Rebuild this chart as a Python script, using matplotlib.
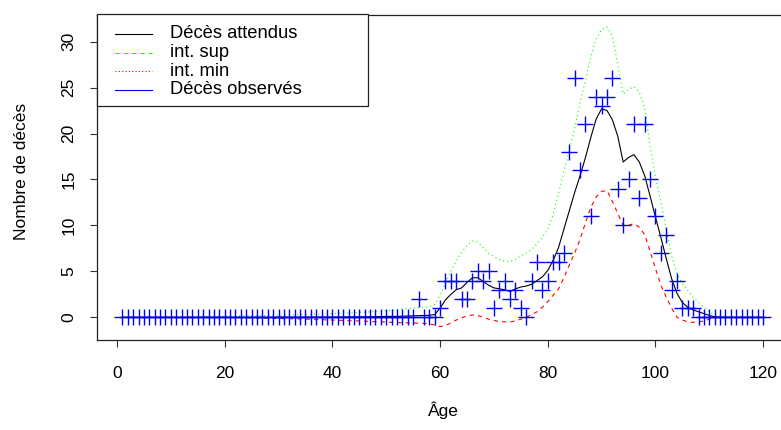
import matplotlib
matplotlib.use("Agg")
import matplotlib.pyplot as plt
from matplotlib.lines import Line2D
from matplotlib.patches import Rectangle

plt.rcParams['font.family'] = ['Liberation Sans', 'DejaVu Sans']
plt.rcParams['lines.scale_dashes'] = False

ages = list(range(1, 121))

observed = ([0] * 55 +
            [2, 0, 0, 0, 1, 4, 4, 4, 2, 2,
             4, 5, 4, 5, 1, 3, 4, 2, 3, 1,
             0, 4, 6, 3, 4, 6, 6, 7, 18, 26,
             16, 21, 11, 24, 23, 24, 26, 14, 10, 15,
             21, 13, 21, 15, 11, 7, 9, 3, 4, 1,
             1, 1] +
            [0] * 13)

expected = [0.0] * 20 + [
    0.0, 0.0, 0.0, 0.0, 0.0, 0.0, 0.0, 0.0, 0.0, 0.01,
    0.01, 0.01, 0.01, 0.01, 0.01, 0.02, 0.02, 0.02, 0.02, 0.03,
    0.03, 0.03, 0.04, 0.04, 0.05, 0.05, 0.06, 0.07, 0.08, 0.09,
    0.1, 0.1, 0.12, 0.14, 0.16, 0.18, 0.2, 0.22, 0.3, 1.0,
    1.9, 2.5, 3.0, 3.2, 3.8, 4.3, 4.3, 3.9, 3.5, 3.2,
    3.1, 3.0, 2.8, 3.1, 3.3, 3.4, 3.6, 4.0, 4.4, 5.1,
    6.2, 7.6, 9.6, 11.6, 13.6, 15.4, 17.4, 19.6, 21.6, 22.7,
    22.5, 21.5, 19.7, 16.9, 17.4, 17.7, 16.9, 15.4, 13.2, 10.9,
    8.7, 6.4, 4.2, 2.6, 1.6, 1.1, 0.8, 0.6, 0.4, 0.2,
    0.05, 0.02, 0.01, 0.0, 0.0, 0.0, 0.0, 0.0, 0.0, 0.0]

int_sup = [0.0] * 14 + [
    0.1, 0.1, 0.11, 0.12, 0.13, 0.14,
    0.15, 0.16, 0.17, 0.18, 0.19, 0.2, 0.21, 0.22, 0.23, 0.24,
    0.25, 0.26, 0.27, 0.28, 0.3, 0.32, 0.34, 0.36, 0.38, 0.4,
    0.42, 0.44, 0.47, 0.5, 0.53, 0.56, 0.6, 0.64, 0.68, 0.72,
    0.77, 0.82, 0.88, 0.94, 1.0, 1.05, 1.1, 1.15, 1.4, 2.4,
    3.7, 5.0, 6.1, 7.1, 7.8, 8.3, 8.2, 7.6, 7.0, 6.6,
    6.3, 6.1, 6.05, 6.3, 6.7, 7.0, 7.4, 8.0, 8.7, 9.6,
    11.2, 13.5, 15.9, 18.2, 20.6, 23.4, 25.8, 28.4, 30.3, 31.3,
    31.6, 30.6, 27.5, 24.3, 24.8, 25.1, 24.5, 22.8, 18.6, 15.2,
    12.6, 9.6, 6.7, 4.8, 3.7, 2.9, 2.2, 1.6, 1.1, 0.6,
    0.3, 0.15, 0.1, 0.05, 0.0, 0.0, 0.0, 0.0, 0.0, 0.0]

int_min = [0.0] * 20 + [
    -0.02, -0.03, -0.04, -0.05, -0.06, -0.07, -0.08, -0.1, -0.12, -0.13,
    -0.14, -0.15, -0.17, -0.18, -0.2, -0.22, -0.24, -0.26, -0.28, -0.3,
    -0.32, -0.34, -0.36, -0.38, -0.4, -0.42, -0.45, -0.48, -0.5, -0.52,
    -0.55, -0.57, -0.6, -0.6, -0.62, -0.64, -0.66, -0.7, -0.85, -1.0,
    -0.9, -0.6, -0.3, -0.05, 0.15, 0.25, 0.2, 0.0, -0.2, -0.35,
    -0.45, -0.5, -0.5, -0.4, -0.2, 0.0, 0.3, 0.6, 1.1, 1.7,
    2.4, 3.1, 4.3, 5.7, 7.0, 8.5, 10.3, 12.0, 13.1, 13.7,
    13.8, 12.6, 11.3, 10.0, 10.0, 10.2, 9.8, 9.0, 7.2, 5.3,
    3.5, 2.2, 1.0, 0.0, -0.3, -0.5, -0.55, -0.5, -0.4, -0.2,
    0.0, 0.0, 0.0, 0.0, 0.0, 0.0, 0.0, 0.0, 0.0, 0.0]

x_ticks = [0, 20, 40, 60, 80, 100, 120]
y_ticks = [0, 5, 10, 15, 20, 25, 30]
legend_labels = ["Décès attendus", "int. sup", "int. min", "Décès observés"]

FS = 12.5
LEG_FS = 13.2
lw = 0.8
GREEN_PLOT = (0, (0.8, 2.2))
RED_PLOT = (0, (3.0, 3.0))

# axes geometry in pixels
AX_L, AX_T, AX_W, AX_H = 97, 15, 692, 325

fig = plt.figure(figsize=(7.81, 4.30), dpi=100)
ax = fig.add_axes([AX_L / 781, (430 - AX_T - AX_H) / 430, AX_W / 781, AX_H / 430])

ax.plot(ages, expected, color='black', lw=lw)
ax.plot(ages, int_sup, color='#00FF00', lw=lw, linestyle=GREEN_PLOT)
ax.plot(ages, int_min, color='#FF0000', lw=lw, linestyle=RED_PLOT)
ax.plot(ages, observed, linestyle='none', marker='+', color='#0000FF',
        markersize=11, markeredgewidth=1.0)

ax.set_xlim(-3.72, 124.8)
ax.set_ylim(-2.47, 32.9)
ax.set_xticks(x_ticks)
ax.set_yticks(y_ticks)
ax.tick_params(axis='both', direction='out', length=5, width=0.8,
               labelsize=FS, color='#333333')
ax.tick_params(axis='x', pad=14)
ax.tick_params(axis='y', pad=10)
for lab in ax.get_yticklabels():
    lab.set_rotation(90)
    lab.set_va('center')
for sp in ax.spines.values():
    sp.set_linewidth(0.9)
    sp.set_color('#222222')

ax.set_xlabel("Âge", fontsize=FS)
ax.xaxis.set_label_coords(0.5, -0.19)
ax.set_ylabel("Nombre de décès", fontsize=FS)
ax.yaxis.set_label_coords(-0.098, 0.52)


def axx(px):
    return (px - AX_L) / AX_W


def axy(py):
    return (AX_T + AX_H - py) / AX_H


# legend box drawn like R's legend()
box = Rectangle((axx(97), axy(106)), axx(368) - axx(97), axy(14) - axy(106),
                transform=ax.transAxes, facecolor='white', edgecolor='#222222',
                lw=0.9, zorder=5, clip_on=False)
ax.add_patch(box)
leg_styles = [
    dict(color='black', linestyle='-'),
    dict(color='#00FF00', linestyle=(0, (3.0, 3.0))),
    dict(color='#FF0000', linestyle=(0, (0.8, 1.6))),
    dict(color='#0000FF', linestyle='-'),
]
row_y = [34, 52.5, 71, 89.5]
for lab, st, ry in zip(legend_labels, leg_styles, row_y):
    ax.add_line(Line2D([axx(115), axx(152)], [axy(ry), axy(ry)],
                       transform=ax.transAxes, lw=lw, zorder=6, clip_on=False, **st))
    ax.text(axx(170), axy(ry), lab, transform=ax.transAxes, fontsize=LEG_FS,
            va='center', ha='left', zorder=6)

fig.savefig("out.png", dpi=100)
